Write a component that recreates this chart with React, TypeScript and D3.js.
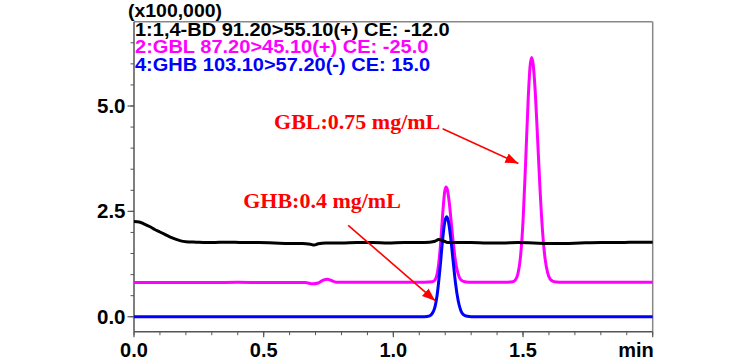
import React from 'react';
import * as d3 from 'd3';

const W = 756;
const H = 363;

// x: retention time (min), y: intensity (x100,000)
const X_DOMAIN: [number, number] = [0, 2.0];
const Y_DOMAIN: [number, number] = [-0.355, 7.0];

const xMajorTicks = [0, 0.5, 1.0, 1.5, 2.0];
const xTickLabels = ['0.0', '0.5', '1.0', '1.5'];
const xMinorTicks = d3.range(0, 21).map((i) => i / 10);
const yMajorTicks = [0, 2.5, 5.0];
const yTickLabels = ['0.0', '2.5', '5.0'];
const yMinorTicks = d3.range(0, 14).map((i) => i / 2);

const legendLabels = [
  '1:1,4-BD 91.20>55.10(+) CE: -12.0',
  '2:GBL 87.20>45.10(+) CE: -25.0',
  '4:GHB 103.10>57.20(-) CE: 15.0',
];
const legendEms = [15.729, 14.673, 14.756];
const seriesColors = ['#000000', '#ff00ff', '#0000ff'];

// 1,4-BD trace (black)
const bdTrace: [number, number][] = [
  [0.0, 2.26], [0.02, 2.25], [0.04, 2.2], [0.06, 2.14], [0.08, 2.07], [0.1, 2.01],
  [0.12, 1.95], [0.14, 1.89], [0.16, 1.84], [0.18, 1.8], [0.2, 1.78], [0.24, 1.77],
  [0.3, 1.76], [0.36, 1.77], [0.42, 1.76], [0.48, 1.76], [0.54, 1.75], [0.6, 1.74],
  [0.65, 1.74], [0.68, 1.72], [0.695, 1.7], [0.71, 1.73], [0.74, 1.75], [0.8, 1.75],
  [0.86, 1.76], [0.92, 1.76], [0.98, 1.75], [1.04, 1.76], [1.1, 1.76], [1.14, 1.77],
  [1.16, 1.79], [1.175, 1.83], [1.19, 1.81], [1.21, 1.76], [1.25, 1.76], [1.3, 1.76],
  [1.36, 1.75], [1.42, 1.75], [1.48, 1.76], [1.54, 1.75], [1.6, 1.74], [1.66, 1.74],
  [1.72, 1.75], [1.8, 1.76], [1.88, 1.76], [1.94, 1.77], [2.0, 1.77],
];

// GBL trace (magenta)
const gblTrace: [number, number][] = [
  [0.0, 0.81], [0.1, 0.81], [0.2, 0.81], [0.3, 0.81], [0.4, 0.82], [0.5, 0.81],
  [0.6, 0.81], [0.66, 0.81], [0.69, 0.78], [0.71, 0.8], [0.73, 0.87], [0.745, 0.89],
  [0.76, 0.86], [0.78, 0.82], [0.85, 0.82], [0.95, 0.82], [1.05, 0.82], [1.12, 0.82],
  [1.15, 0.83], [1.16, 0.87], [1.17, 1.05], [1.178, 1.44], [1.185, 1.97], [1.192, 2.58],
  [1.198, 2.97], [1.203, 3.08], [1.208, 3.02], [1.215, 2.74], [1.222, 2.32], [1.23, 1.81],
  [1.24, 1.3], [1.25, 1.01], [1.26, 0.88], [1.275, 0.83], [1.29, 0.82], [1.34, 0.82],
  [1.4, 0.82], [1.44, 0.82], [1.46, 0.83], [1.47, 0.87], [1.48, 1.01], [1.49, 1.41],
  [1.5, 2.27], [1.51, 3.66], [1.52, 5.18], [1.527, 5.93], [1.533, 6.15], [1.539, 5.99],
  [1.546, 5.45], [1.555, 4.38], [1.565, 3.09], [1.575, 2.05], [1.585, 1.38], [1.595, 1.04],
  [1.605, 0.89], [1.62, 0.83], [1.64, 0.82], [1.7, 0.82], [1.8, 0.82], [1.9, 0.82], [2.0, 0.82],
];

// GHB trace (blue)
const ghbTrace: [number, number][] = [
  [0.0, 0.0], [0.2, 0.0], [0.4, 0.0], [0.6, 0.0], [0.8, 0.0], [1.0, 0.0], [1.12, 0.0],
  [1.14, 0.02], [1.15, 0.08], [1.16, 0.22], [1.17, 0.57], [1.18, 1.15], [1.19, 1.83],
  [1.198, 2.24], [1.205, 2.37], [1.212, 2.27], [1.22, 1.93], [1.23, 1.35], [1.24, 0.78],
  [1.25, 0.38], [1.26, 0.15], [1.27, 0.05], [1.285, 0.01], [1.3, 0.0], [1.4, 0.0],
  [1.6, 0.0], [1.8, 0.0], [2.0, 0.0],
];

const traces = [gblTrace, ghbTrace, bdTrace];
const traceColors = ['#ff00ff', '#0000ff', '#000000'];

// annotations in data units: label anchor, arrow start, arrow tip
const annGBL = { text: 'GBL:0.75 mg/mL', at: [0.54, 4.46], from: [1.19, 4.46], to: [1.482, 3.635] };
const annGHB = { text: 'GHB:0.4 mg/mL', at: [0.421, 2.57], from: [0.826, 2.17], to: [1.161, 0.38] };
const annotations = [annGBL, annGHB];

const SANS = '"Liberation Sans", Arial, Helvetica, sans-serif';
const SERIF = '"Liberation Serif", "Times New Roman", serif';

export default function App() {
  const left = 134;
  const right = 652.7;
  const top = 21.7;
  const bottom = 331.7;
  const x = d3.scaleLinear().domain(X_DOMAIN).range([left, right]);
  const y = d3.scaleLinear().domain(Y_DOMAIN).range([bottom, top]);
  const line = d3
    .line<[number, number]>()
    .x((d) => x(d[0]))
    .y((d) => y(d[1]))
    .curve(d3.curveMonotoneX);

  return (
    <svg
      width={W}
      height={H}
      viewBox={`0 0 ${W} ${H}`}
      style={{ position: 'absolute', left: 0, top: 0, background: '#fff' }}
    >
      <defs>
        <clipPath id="plot">
          <rect x={left} y={top} width={right - left} height={bottom - top} />
        </clipPath>
        <marker
          id="arrowRed"
          markerUnits="userSpaceOnUse"
          markerWidth={14}
          markerHeight={12}
          refX={13}
          refY={5}
          orient="auto"
        >
          <path d="M0,0 L13,5 L0,10 Z" fill="#ff0000" />
        </marker>
      </defs>
      <rect x={0} y={0} width={W} height={H} fill="#fff" />

      {/* frame */}
      <line x1={left} y1={top} x2={right} y2={top} stroke="#888" strokeWidth={1.5} />
      <line x1={right} y1={top} x2={right} y2={bottom} stroke="#888" strokeWidth={1.5} />
      <line x1={left} y1={top} x2={left} y2={bottom} stroke="#555" strokeWidth={1.5} />
      <line x1={left} y1={bottom} x2={right} y2={bottom} stroke="#555" strokeWidth={1.5} />

      {/* x ticks */}
      {xMinorTicks.map((t) => (
        <line key={'xm' + t} x1={x(t)} x2={x(t)} y1={bottom} y2={bottom + 3.5} stroke="#555" strokeWidth={1} />
      ))}
      {xMajorTicks.map((t) => (
        <line key={'xM' + t} x1={x(t)} x2={x(t)} y1={bottom} y2={bottom + 5.5} stroke="#555" strokeWidth={1.2} />
      ))}
      {xTickLabels.map((lab, i) => (
        <text
          key={'xl' + lab}
          x={x(xMajorTicks[i])}
          y={357}
          textAnchor="middle"
          fontFamily={SANS}
          fontWeight="bold"
          fontSize={20}
          fill="#000"
        >
          {lab}
        </text>
      ))}
      <text x={right + 1} y={357} textAnchor="end" fontFamily={SANS} fontWeight="bold" fontSize={20} fill="#000">
        min
      </text>

      {/* y ticks */}
      {yMinorTicks.map((v) => (
        <line key={'ym' + v} x1={left - 3.5} x2={left} y1={y(v)} y2={y(v)} stroke="#555" strokeWidth={1} />
      ))}
      {yMajorTicks.map((v) => (
        <line key={'yM' + v} x1={left - 6.5} x2={left} y1={y(v)} y2={y(v)} stroke="#555" strokeWidth={1.2} />
      ))}
      {yTickLabels.map((lab, i) => (
        <text
          key={'yl' + lab}
          x={125.5}
          y={y(yMajorTicks[i]) + 7}
          textAnchor="end"
          fontFamily={SANS}
          fontWeight="bold"
          fontSize={20.5}
          fill="#000"
        >
          {lab}
        </text>
      ))}
      <text
        x={128}
        y={16.5}
        fontFamily={SANS}
        fontWeight="bold"
        fontSize={18}
        textLength={94}
        lengthAdjust="spacingAndGlyphs"
        fill="#000"
      >
        (x100,000)
      </text>

      {/* traces */}
      <g clipPath="url(#plot)">
        {traces.map((tr, i) => (
          <path
            key={'tr' + i}
            d={line(tr) || ''}
            fill="none"
            stroke={traceColors[i]}
            strokeWidth={3}
            strokeLinejoin="round"
            strokeLinecap="round"
          />
        ))}
      </g>

      {/* legend */}
      {legendLabels.map((lab, i) => (
        <text
          key={'lg' + i}
          x={135}
          y={35.5 + i * 17.6}
          fontFamily={SANS}
          fontWeight="bold"
          fontSize={18}
          textLength={legendEms[i] * 20}
          lengthAdjust="spacingAndGlyphs"
          fill={seriesColors[i]}
        >
          {lab}
        </text>
      ))}

      {/* annotations */}
      {annotations.map((a, i) => (
        <g key={'ann' + i}>
          <text
            x={x(a.at[0])}
            y={y(a.at[1])}
            fontFamily={SERIF}
            fontWeight="bold"
            fontSize={22}
            fill="#ff0000"
          >
            {a.text}
          </text>
          <line
            x1={x(a.from[0])}
            y1={y(a.from[1])}
            x2={x(a.to[0])}
            y2={y(a.to[1])}
            stroke="#ff0000"
            strokeWidth={1.6}
            markerEnd="url(#arrowRed)"
          />
        </g>
      ))}
    </svg>
  );
}
